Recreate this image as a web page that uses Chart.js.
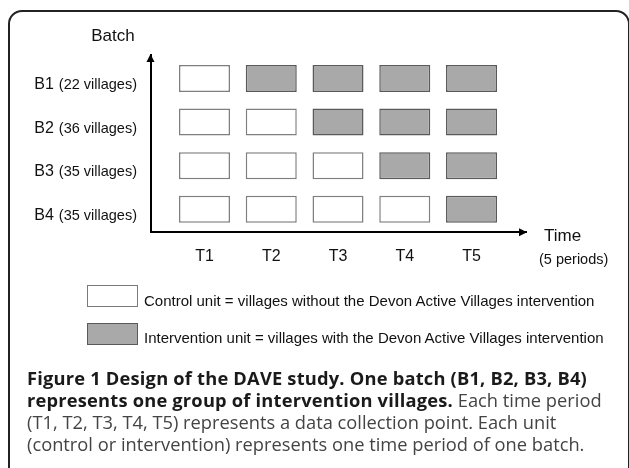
<!DOCTYPE html>
<html><head><meta charset="utf-8">
<script src="https://cdn.jsdelivr.net/npm/chart.js@4.4.1/dist/chart.umd.min.js"></script>
<style>
html,body{margin:0;padding:0;background:#fff;}
#wrap{position:relative;width:629px;height:468px;overflow:hidden;background:#fff;}
#frame{position:absolute;left:8px;top:10px;width:622px;height:540px;border:2px solid #222;border-radius:14px;box-sizing:border-box;}
#chart{position:absolute;left:0;top:0;}
.leg{position:absolute;left:87px;width:51px;height:22px;box-sizing:border-box;}
.legt{position:absolute;left:144px;font:15px "Liberation Sans",Arial,sans-serif;color:#111;white-space:nowrap;line-height:17px;}
#cap{position:absolute;left:27px;top:367px;width:600px;font:18.3px/22px "Open Sans",sans-serif;color:#444;white-space:nowrap;}
#cap b{color:#1a1a1a;font-weight:700;letter-spacing:0.2px;}
</style></head>
<body><div id="wrap">
<div id="frame"></div>
<canvas id="chart" width="629" height="468"></canvas>
<div class="leg" style="top:285px;background:#fff;border:1.5px solid #7a7a7a;"></div>
<div class="legt" style="top:292px">Control unit = villages without the Devon Active Villages intervention</div>
<div class="leg" style="top:323px;background:#a9a9a9;border:1.5px solid #5a5a5a;"></div>
<div class="legt" style="top:329px">Intervention unit = villages with the Devon Active Villages intervention</div>
<div id="cap"><b>Figure 1 Design of the DAVE study. One batch (B1, B2, B3, B4)<br>represents one group of intervention villages.</b> Each time period<br>(T1, T2, T3, T4, T5) represents a data collection point. Each unit<br>(control or intervention) represents one time period of one batch.</div>
</div>
<script>
// ---- data ----
const timeLabels = ['T1', 'T2', 'T3', 'T4', 'T5'];
const timeValues = [1, 2, 3, 4, 5];
const batchLabels = ['B1', 'B2', 'B3', 'B4'];
const batchSizes = ['(22 villages)', '(36 villages)', '(35 villages)', '(35 villages)'];
const batchRows = [4, 3, 2, 1];
// 0 = control unit, 1 = intervention unit
const statusB1 = [0, 1, 1, 1, 1];
const statusB2 = [0, 0, 1, 1, 1];
const statusB3 = [0, 0, 0, 1, 1];
const statusB4 = [0, 0, 0, 0, 1];
const batchStatus = [statusB1, statusB2, statusB3, statusB4];

// ---- styling ----
const BOX_HALF = 0.31;
const FILL = ['#ffffff', '#a9a9a9'];
const EDGE = ['#7f7f7f', '#5a5a5a'];
const SANS = '"Liberation Sans", Arial, sans-serif';

const datasets = batchLabels.map((b, bi) => ({
  label: b,
  data: timeValues.map((t) => ({ x: t, y: [batchRows[bi] - BOX_HALF, batchRows[bi] + BOX_HALF] })),
  backgroundColor: batchStatus[bi].map(s => FILL[s]),
  borderColor: batchStatus[bi].map(s => EDGE[s]),
  borderWidth: 1.5,
  borderSkipped: false,
  grouped: false,
  categoryPercentage: 1,
  barPercentage: 0.764
}));

const decor = {
  id: 'decor',
  afterDraw(chart) {
    const { ctx, chartArea: a, scales: { x, y } } = chart;
    ctx.save();
    ctx.fillStyle = '#000';
    // arrow heads
    ctx.beginPath();
    ctx.moveTo(a.right + 1, a.bottom + 0.5);
    ctx.lineTo(a.right - 7, a.bottom - 3.5);
    ctx.lineTo(a.right - 7, a.bottom + 4.5);
    ctx.closePath(); ctx.fill();
    ctx.beginPath();
    ctx.moveTo(a.left - 0.5, a.top - 1);
    ctx.lineTo(a.left - 4.5, a.top + 7);
    ctx.lineTo(a.left + 3.5, a.top + 7);
    ctx.closePath(); ctx.fill();
    // axis titles
    ctx.fillStyle = '#111';
    ctx.textBaseline = 'alphabetic';
    ctx.font = '17px ' + SANS;
    ctx.textAlign = 'center';
    ctx.fillText('Batch', 113, 41);
    ctx.textAlign = 'left';
    ctx.fillText('Time', 544, 241);
    ctx.font = '14.5px ' + SANS;
    ctx.fillText('(5 periods)', 539, 264);
    // batch labels
    batchLabels.forEach((b, i) => {
      const py = y.getPixelForValue(batchRows[i]) + 10.5;
      ctx.font = '14.5px ' + SANS;
      ctx.textAlign = 'right';
      ctx.fillText(batchSizes[i], 137, py);
      const w = ctx.measureText(batchSizes[i]).width;
      ctx.font = '16px ' + SANS;
      ctx.fillText(b, 137 - w - 5, py);
    });
    ctx.restore();
  }
};

new Chart(document.getElementById('chart'), {
  type: 'bar',
  data: { datasets },
  options: {
    responsive: false,
    animation: false,
    events: [],
    layout: { padding: { left: 151, right: 103, top: 55, bottom: 187 } },
    plugins: { legend: { display: false }, tooltip: { enabled: false } },
    scales: {
      x: {
        type: 'linear',
        offset: false,
        min: 0.1985, max: 5.816,
        grid: { display: false, drawTicks: false },
        border: { display: true, color: '#000', width: 2 },
        afterBuildTicks: (s) => { s.ticks = timeValues.map(v => ({ value: v })); },
        ticks: {
          padding: 15,
          color: '#111',
          font: { family: SANS, size: 16 },
          callback: (v) => timeLabels[timeValues.indexOf(v)]
        }
      },
      y: {
        type: 'linear',
        offset: false,
        min: 0.485, max: 4.538,
        grid: { display: false, drawTicks: false },
        border: { display: true, color: '#000', width: 2 },
        ticks: { display: false }
      }
    }
  },
  plugins: [decor]
});
</script>
</body></html>
